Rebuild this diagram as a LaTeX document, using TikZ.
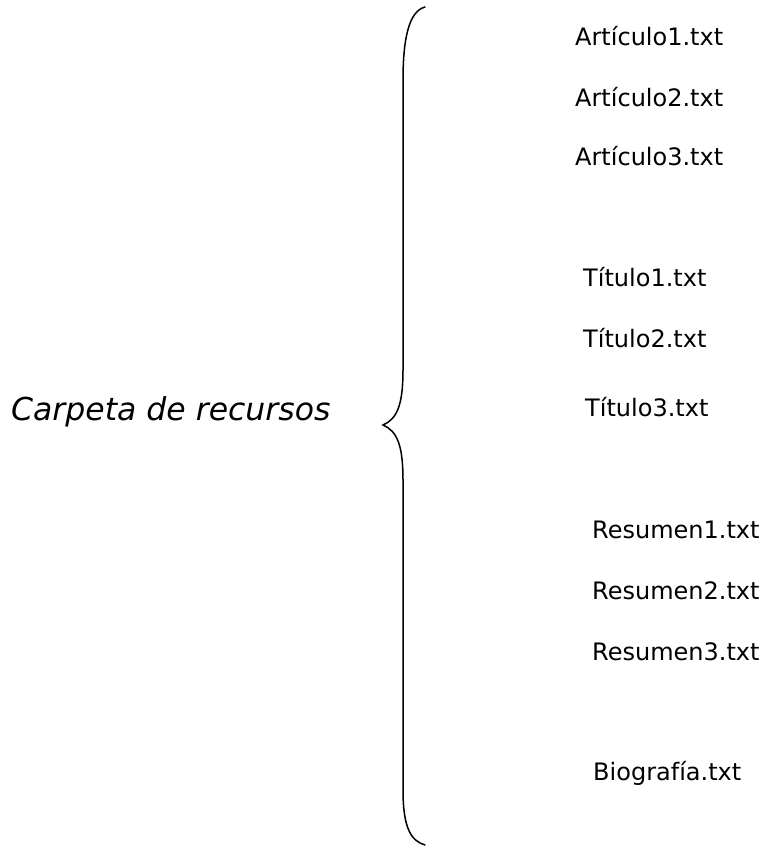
\documentclass[tikz,border=0pt]{standalone}
\usepackage{fontspec}
\setmainfont{DejaVu Sans}
\begin{document}
\begin{tikzpicture}[x=1pt,y=-1pt,
  file/.style={anchor=base west,inner sep=0pt,font=\fontsize{24}{28}\selectfont},
  title/.style={anchor=base west,inner sep=0pt,font=\fontsize{31.5}{36}\selectfont\itshape},
  bracestyle/.style={line width=1.5pt,line cap=round}]
\useasboundingbox (0,0) rectangle (762,846);
\node[title] (carpeta) at (11,420) {Carpeta de recursos};
\coordinate (btop) at (425,7);
\coordinate (btip) at (383,425);
\coordinate (bbot) at (425,845);
\draw[bracestyle] (btop) .. controls (410,11) and (403,35) .. (403,80)
  -- (403,370) .. controls (403,405) and (397,419) .. (btip)
  .. controls (397,431) and (403,445) .. (403,480)
  -- (403,790) .. controls (403,830) and (412,841) .. (bbot);
\node[file] (a1) at (575,45) {Artículo1.txt};
\node[file] (a2) at (575,106) {Artículo2.txt};
\node[file] (a3) at (575,165) {Artículo3.txt};
\node[file] (t1) at (583,286) {Título1.txt};
\node[file] (t2) at (583,347) {Título2.txt};
\node[file] (t3) at (585,416) {Título3.txt};
\node[file] (r1) at (592,538) {Resumen1.txt};
\node[file] (r2) at (592,599) {Resumen2.txt};
\node[file] (r3) at (592,660) {Resumen3.txt};
\node[file] (bio) at (593,780) {Biografía.txt};
\end{tikzpicture}
\end{document}
